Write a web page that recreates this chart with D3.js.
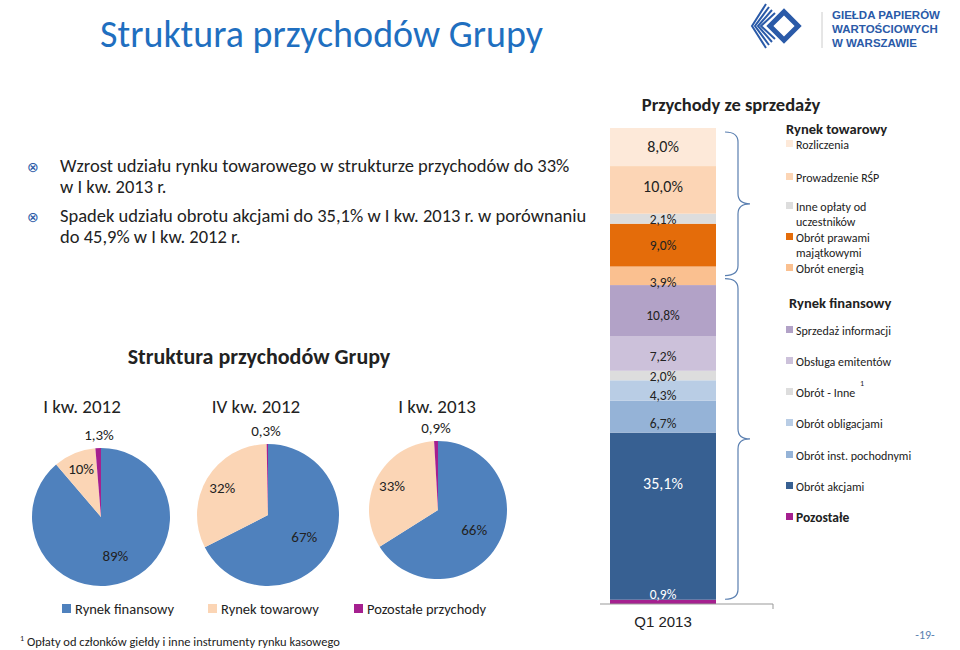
<!DOCTYPE html>
<html><head><meta charset="utf-8">
<script src="https://cdn.jsdelivr.net/npm/d3@7"></script>
<style>body{margin:0;background:#fff}svg{font-family:Calibri,Carlito,Lato,sans-serif}</style>
</head><body><svg id="c" width="960" height="650"></svg>
<script>
// pie data
const pieLabels = ['I kw. 2012', 'IV kw. 2012', 'I kw. 2013'];
const pieCategories = ['Rynek finansowy', 'Rynek towarowy', 'Pozostałe przychody'];
const pieFin = [89, 67, 66];
const pieTow = [10, 32, 33];
const pieOther = [1.3, 0.3, 0.9];
const pieColors = ['#4f81bd', '#fbd5b5', '#a5208f'];

// stacked bar data, bottom to top
const barCategories = ['Pozostałe', 'Obrót akcjami', 'Obrót inst. pochodnymi', 'Obrót obligacjami', 'Obrót - Inne',
  'Obsługa emitentów', 'Sprzedaż informacji', 'Obrót energią', 'Obrót prawami majątkowymi',
  'Inne opłaty od uczestników', 'Prowadzenie RŚP', 'Rozliczenia'];
const barValues = [0.9, 35.1, 6.7, 4.3, 2.0, 7.2, 10.8, 3.9, 9.0, 2.1, 10.0, 8.0];
const barColors = ['#a5208f', '#376092', '#95b3d7', '#b9cde5', '#dddddd', '#ccc1da', '#b2a2c7',
  '#fac090', '#e46c0a', '#dddddd', '#fcd5b5', '#fde9d9'];

const svg = d3.select('#c');

// title + logo
svg.append('text').attr('x', 100).attr('y', 47).attr('fill', '#1f6fc0')
  .style('font-size', '38px').text('Struktura przychodów Grupy');
const logo = svg.append('g').attr('transform', 'translate(752,4)');
for (let i = 0; i < 4; i++) {
  logo.append('path').attr('d', `M${14 + i * 3},${i * 3} L${i * 3},${22} L${14 + i * 3},${44 - i * 3}`)
    .attr('fill', 'none').attr('stroke', '#2a5aa8').attr('stroke-width', 2);
}
logo.append('rect').attr('x', 22).attr('y', 12).attr('width', 20).attr('height', 20)
  .attr('transform', 'rotate(45,32,22)').attr('fill', 'none').attr('stroke', '#2a5aa8').attr('stroke-width', 5);
svg.append('line').attr('x1', 822).attr('x2', 822).attr('y1', 12).attr('y2', 48).attr('stroke', '#ccc');
['GIEŁDA PAPIERÓW', 'WARTOŚCIOWYCH', 'W WARSZAWIE'].forEach((t, i) => {
  svg.append('text').attr('x', 832).attr('y', 19 + i * 14).attr('fill', '#2a5aa8')
    .style('font-family', 'Arial, Liberation Sans').style('font-weight', 'bold').style('font-size', '11.5px').text(t);
});

// bullets
const bullets = [['Wzrost udziału rynku towarowego w strukturze przychodów do 33%', 'w I kw. 2013 r.'],
  ['Spadek udziału obrotu akcjami do 35,1% w I kw. 2013 r. w porównaniu', 'do 45,9% w I kw. 2012 r.']];
bullets.forEach((b, i) => {
  const y = 172 + i * 50;
  svg.append('text').attr('x', 27).attr('y', y).attr('fill', '#2a5aa8').style('font-size', '14px').text('⊗');
  b.forEach((l, j) => svg.append('text').attr('x', 60).attr('y', y + j * 21).attr('fill', '#222')
    .style('font-size', '18.5px').text(l));
});

// pies
svg.append('text').attr('x', 259).attr('y', 364).attr('text-anchor', 'middle')
  .style('font-size', '22px').style('font-weight', 'bold').attr('fill', '#222').text('Struktura przychodów Grupy');
const pieCenters = [[101, 517, 69], [268, 515, 71], [438, 510, 69]];
const titleX = [82, 256, 437];
const pie = d3.pie().sort(null).value(d => d);
pieLabels.forEach((lab, i) => {
  const [cx, cy, r] = pieCenters[i];
  svg.append('text').attr('x', titleX[i]).attr('y', 413).attr('text-anchor', 'middle')
    .style('font-size', '19px').attr('fill', '#222').text(lab);
  const g = svg.append('g').attr('transform', `translate(${cx},${cy})`);
  const vals = [pieFin[i], pieTow[i], pieOther[i]];
  const arcs = pie(vals);
  const arc = d3.arc().innerRadius(0).outerRadius(r);
  g.selectAll('path').data(arcs).join('path').attr('d', arc).attr('fill', (d, k) => pieColors[k]);
  const fmt = v => String(v).replace('.', ',') + '%';
  const lab0 = d3.arc().innerRadius(r * 0.6).outerRadius(r * 0.6);
  const lab1 = d3.arc().innerRadius(r * 0.75).outerRadius(r * 0.75);
  [0, 1].forEach(k => {
    const c = (k === 0 ? lab0 : lab1).centroid(arcs[k]);
    g.append('text').attr('x', c[0]).attr('y', c[1] + 5).attr('text-anchor', 'middle')
      .style('font-size', '15px').attr('fill', '#222').text(fmt(vals[k]));
  });
  g.append('text').attr('x', -2).attr('y', -r - 8).attr('text-anchor', 'middle')
    .style('font-size', '15px').attr('fill', '#222').text(fmt(vals[2]));
});
const legX = [62, 208, 354];
pieCategories.forEach((c, i) => {
  svg.append('rect').attr('x', legX[i]).attr('y', 604).attr('width', 9).attr('height', 9).attr('fill', pieColors[i]);
  svg.append('text').attr('x', legX[i] + 13).attr('y', 614).style('font-size', '14.5px').attr('fill', '#222').text(c);
});
svg.append('text').attr('x', 20).attr('y', 646).style('font-size', '12.5px').attr('fill', '#222')
  .html('<tspan font-size="8" dy="-5">1</tspan><tspan dy="5"> Opłaty od członków giełdy i inne instrumenty rynku kasowego</tspan>');

// stacked bar
svg.append('text').attr('x', 731).attr('y', 111).attr('text-anchor', 'middle')
  .style('font-size', '18.5px').style('font-weight', 'bold').attr('fill', '#222').text('Przychody ze sprzedaży');
const x = d3.scaleBand().domain(['Q1 2013']).range([610, 716]).padding(0);
const y = d3.scaleLinear().domain([0, 100]).range([604, 128]);
let acc = 0;
const stack = barValues.map((v, i) => { const s = { v, i, y0: acc, y1: acc + v }; acc += v; return s; });
svg.selectAll('rect.seg').data(stack).join('rect').attr('class', 'seg')
  .attr('x', x('Q1 2013')).attr('width', x.bandwidth())
  .attr('y', d => y(d.y1)).attr('height', d => y(d.y0) - y(d.y1)).attr('fill', d => barColors[d.i]);
// label offsets (px from segment centre)
const labDy = [-8, -32, 6, 4, 0, 2, 4, 6, 0, 0, -3, 0];
svg.selectAll('text.seg').data(stack).join('text').attr('class', 'seg')
  .attr('x', x('Q1 2013') + 53).attr('y', d => (y(d.y0) + y(d.y1)) / 2 + 5 + labDy[d.i])
  .attr('text-anchor', 'middle').style('font-size', d => d.v > 30 || d.v === 8 || d.v === 10 ? '16px' : '13.5px')
  .attr('fill', d => d.i === 1 || d.i === 0 ? '#fff' : '#222')
  .text(d => d3.format('.1f')(d.v).replace('.', ',') + '%');
svg.append('g').attr('transform', 'translate(0,604)')
  .call(d3.axisBottom(x).tickSize(0).tickPadding(12))
  .call(g => { g.select('.domain').attr('stroke', '#999').attr('d', 'M600,0H773V5'); g.selectAll('text').style('font-size', '15px').attr('fill', '#222').style('font-family', 'inherit'); });

// braces
function brace(y0, y1) {
  const m = (y0 + y1) / 2, xa = 725, xb = 738, xc = 750;
  return `M${xa},${y0} Q${xb},${y0} ${xb},${y0 + 10} L${xb},${m - 10} Q${xb},${m} ${xc},${m}` +
    ` Q${xb},${m} ${xb},${m + 10} L${xb},${y1 - 10} Q${xb},${y1} ${xa},${y1}`;
}
svg.append('path').attr('d', brace(y(100) + 4, y(69))).attr('fill', 'none').attr('stroke', '#5a7fb0').attr('stroke-width', 1.2);
svg.append('path').attr('d', brace(y(69) + 3, y(1) )).attr('fill', 'none').attr('stroke', '#5a7fb0').attr('stroke-width', 1.2);

// bar legend
svg.append('text').attr('x', 786).attr('y', 134).style('font-size', '14.5px').style('font-weight', 'bold').attr('fill', '#222').text('Rynek towarowy');
svg.append('text').attr('x', 789).attr('y', 308).style('font-size', '14.5px').style('font-weight', 'bold').attr('fill', '#222').text('Rynek finansowy');
const legY = { 'Rozliczenia': 145, 'Prowadzenie RŚP': 178, 'Inne opłaty od uczestników': 207, 'Obrót prawami majątkowymi': 238,
  'Obrót energią': 269, 'Sprzedaż informacji': 331, 'Obsługa emitentów': 362, 'Obrót - Inne': 393,
  'Obrót obligacjami': 424, 'Obrót inst. pochodnymi': 456, 'Obrót akcjami': 487, 'Pozostałe': 518 };
const wrap = { 'Inne opłaty od uczestników': ['Inne opłaty od', 'uczestników'], 'Obrót prawami majątkowymi': ['Obrót prawami', 'majątkowymi'] };
barCategories.forEach((c, i) => {
  const yy = legY[c];
  svg.append('rect').attr('x', 786).attr('y', yy - 5).attr('width', 7).attr('height', 7).attr('fill', barColors[i]);
  const lines = wrap[c] || [c];
  lines.forEach((l, j) => svg.append('text').attr('x', 796).attr('y', yy + 4 + j * 15)
    .style('font-size', c === 'Pozostałe' ? '13.5px' : '12px').style('font-weight', c === 'Pozostałe' ? 'bold' : 'normal')
    .attr('fill', '#222').text(l));
});
svg.append('text').attr('x', 860).attr('y', 386).style('font-size', '8px').attr('fill', '#222').text('1');
svg.append('text').attr('x', 925).attr('y', 639).attr('text-anchor', 'middle').style('font-size', '12px').attr('fill', '#5a7fb0').text('-19-');
</script></body></html>
